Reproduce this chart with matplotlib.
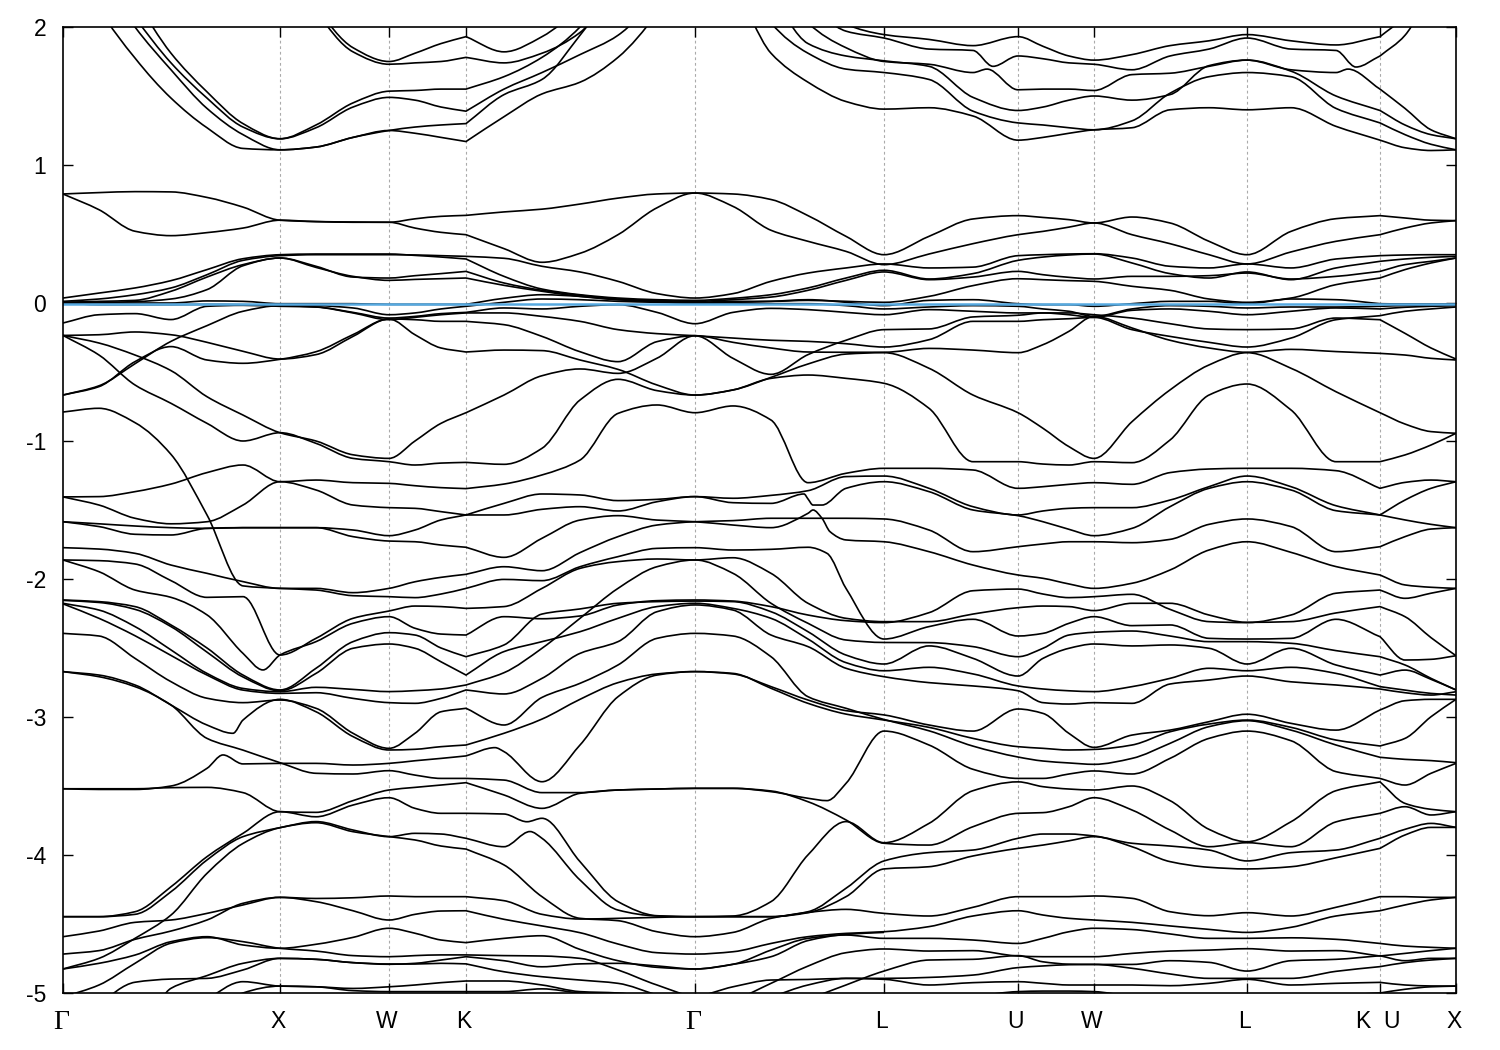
import numpy as np
import matplotlib
matplotlib.use('Agg')
import matplotlib.pyplot as plt
from matplotlib.path import Path
from matplotlib.patches import PathPatch
from matplotlib.transforms import ScaledTranslation

plt.rcParams['font.family'] = ['Liberation Sans', 'DejaVu Sans']

# path coordinate along the zone path, high symmetry points
nodes = [0, 217, 326, 403, 632, 821, 955, 1031, 1184, 1317, 1393]
node_labels = ['Γ', 'X', 'W', 'K', 'Γ', 'L', 'U', 'W', 'L', 'K  U', 'X']
energy_ticks = [2, 1, 0, -1, -2, -3, -4, -5]
fermi = -0.005
kink_nodes = [403, 1317]

k = [0, 36, 72, 108, 144, 180, 217, 253, 290, 326, 352, 378, 403,
     441, 479, 517, 555, 594, 632,
     670, 708, 745, 783, 821,
     866, 910, 955, 980, 1006, 1031, 1069, 1107, 1146, 1184, 1228, 1273, 1317, 1342, 1368, 1393]

# conduction bands
b01 = [3.4, 3.3, 3.2, 3.1, 3.0, 2.9, 2.6, 2.15, 1.85, 1.75, 1.81, 1.88, 1.93, 1.82, 1.93, 2.15, 2.5, 2.9, 3.2, 3.1, 2.8, 2.3, 2.02, 1.945, 1.91, 1.865, 1.93, 1.86, 1.79, 1.76, 1.80, 1.865, 1.90, 1.945, 1.90, 1.87, 1.93, 2.08, 2.4, 2.9]
b02 = [3.3, 3.2, 3.1, 3.0, 2.9, 2.8, 2.6, 2.12, 1.82, 1.73, 1.74, 1.75, 1.78, 1.74, 1.81, 1.96, 2.3, 2.7, 3.1, 3.0, 2.7, 2.2, 1.97, 1.92, 1.84, 1.83, 1.79, 1.77, 1.74, 1.73, 1.69, 1.79, 1.84, 1.92, 1.84, 1.83, 1.79, 1.94, 2.3, 2.9]
b03 = [2.9, 2.45, 2.07, 1.74, 1.485, 1.275, 1.19, 1.29, 1.45, 1.535, 1.54, 1.55, 1.55, 1.64, 1.78, 2.0, 2.4, 2.7, 3.0, 2.9, 2.5, 2.03, 1.85, 1.75, 1.73, 1.67, 1.545, 1.55, 1.55, 1.54, 1.655, 1.665, 1.715, 1.76, 1.69, 1.67, 1.55, 1.41, 1.255, 1.19]
b04 = [2.8, 2.6, 2.2, 1.81, 1.53, 1.30, 1.19, 1.27, 1.42, 1.49, 1.47, 1.42, 1.39, 1.55, 1.67, 1.80, 1.94, 2.25, 2.9, 2.7, 2.25, 1.88, 1.79, 1.755, 1.715, 1.49, 1.395, 1.42, 1.47, 1.50, 1.47, 1.51, 1.72, 1.76, 1.68, 1.50, 1.395, 1.29, 1.22, 1.19]
b05 = [2.7, 2.4, 2.0, 1.69, 1.41, 1.22, 1.11, 1.13, 1.20, 1.25, 1.275, 1.29, 1.30, 1.51, 1.62, 1.94, 2.3, 2.6, 2.7, 2.6, 2.03, 1.81, 1.695, 1.67, 1.62, 1.39, 1.305, 1.29, 1.27, 1.255, 1.32, 1.52, 1.64, 1.67, 1.64, 1.41, 1.305, 1.22, 1.15, 1.11]
b06 = [2.9, 2.15, 1.775, 1.485, 1.27, 1.12, 1.11, 1.13, 1.20, 1.25, 1.23, 1.20, 1.17, 1.35, 1.515, 1.60, 1.78, 2.1, 2.55, 2.3, 1.81, 1.60, 1.46, 1.405, 1.415, 1.355, 1.18, 1.20, 1.23, 1.255, 1.27, 1.40, 1.415, 1.40, 1.415, 1.28, 1.18, 1.125, 1.105, 1.11]

# flat bands around the Fermi level
b07 = [.79, .80, .807, .805, .765, .695, .60, .59, .587, .585, .61, .628, .635, .66, .68, .717, .76, .79, .797, .79, .75, .633, .483, .35, .483, .609, .633, .62, .604, .58, .623, .58, .447, .35, .519, .611, .633, .616, .60, .597]
b08 = [.79, .676, .52, .488, .51, .543, .60, .59, .585, .585, .543, .512, .495, .394, .295, .36, .495, .69, .797, .70, .527, .447, .374, .278, .355, .43, .495, .519, .55, .58, .495, .43, .35, .283, .37, .447, .495, .543, .58, .597]
b09 = [.012, .029, .06, .109, .205, .309, .343, .35, .35, .35, .348, .343, .338, .324, .266, .225, .157, .068, .036, .068, .157, .217, .254, .283, .254, .26, .343, .35, .355, .357, .326, .266, .254, .283, .254, .319, .343, .348, .35, .35]
b10 = [.036, .072, .109, .162, .242, .321, .35, .355, .355, .355, .345, .333, .319, .193, .101, .06, .036, .024, .019, .034, .06, .109, .181, .237, .174, .213, .309, .333, .348, .355, .29, .213, .181, .225, .169, .254, .302, .319, .331, .338]
b11 = [.005, .005, .01, .029, .097, .27, .326, .266, .188, .181, .198, .213, .229, .145, .092, .056, .029, .019, .012, .024, .043, .092, .164, .225, .169, .188, .229, .205, .186, .174, .193, .193, .198, .217, .174, .193, .229, .278, .302, .326]
b12 = [.005, .012, .019, .085, .188, .278, .326, .258, .193, .164, .171, .176, .181, .128, .085, .048, .024, .012, .005, .012, .012, .019, .012, .005, .048, .126, .176, .169, .162, .157, .121, .092, .029, .005, .036, .133, .181, .242, .29, .326]
b13 = [0, -.012, -.012, -.012, -.01, -.012, -.017, -.019, -.036, -.085, -.072, -.043, -.024, .005, .029, .024, .012, .005, 0, .005, .012, .024, .005, -.019, .019, .024, -.005, -.012, -.012, -.024, -.005, .012, .012, -.005, .029, .024, -.005, -.007, -.007, -.007]
b14 = [0, 0, 0, 0, .015, .012, -.005, -.005, -.005, -.01, -.01, -.01, -.01, .034, .06, .048, .024, .01, 0, 0, -.005, -.005, -.019, -.043, -.029, -.019, -.024, -.043, -.06, -.097, -.043, -.019, -.024, -.036, -.029, -.029, -.024, -.019, -.019, -.017]
b15 = [-.145, -.085, -.077, -.12, -.024, -.017, -.024, -.029, -.068, -.109, -.097, -.077, -.068, -.036, -.043, -.024, -.012, -.068, -.15, -.068, -.039, -.048, -.068, -.085, -.048, -.06, -.072, -.072, -.085, -.104, -.053, -.043, -.06, -.085, -.06, -.036, -.043, -.031, -.024, -.019]
b16 = [-.667, -.6, -.44, -.278, -.164, -.06, -.019, -.029, -.072, -.121, -.104, -.085, -.072, -.072, -.097, -.133, -.193, -.222, -.237, -.254, -.27, -.278, -.295, -.319, -.266, -.133, -.133, -.121, -.114, -.104, -.193, -.242, -.285, -.319, -.254, -.121, -.092, -.06, -.043, -.029]
b17 = [-.667, -.606, -.425, -.316, -.413, -.437, -.408, -.353, -.229, -.116, -.121, -.133, -.133, -.157, -.242, -.353, -.425, -.28, -.237, -.401, -.517, -.374, -.27, -.193, -.188, -.101, -.089, -.072, -.072, -.085, -.109, -.15, -.188, -.193, -.188, -.109, -.121, -.22, -.326, -.406]
b18 = [-.235, -.23, -.21, -.23, -.285, -.35, -.406, -.374, -.242, -.116, -.23, -.326, -.355, -.341, -.345, -.413, -.481, -.594, -.667, -.63, -.539, -.442, -.37, -.36, -.473, -.667, -.795, -.908, -1.041, -1.126, -.86, -.63, -.449, -.36, -.473, -.643, -.795, -.877, -.932, -.944]
b19 = [-.235, -.29, -.377, -.49, -.679, -.812, -.94, -1.0, -1.10, -1.126, -1.0, -.872, -.795, -.667, -.527, -.478, -.51, -.4, -.237, -.285, -.326, -.355, -.357, -.357, -.329, -.341, -.36, -.302, -.205, -.097, -.181, -.27, -.326, -.357, -.336, -.352, -.365, -.377, -.401, -.413]
b20 = [-.235, -.377, -.594, -.727, -.872, -1.0, -.94, -1.017, -1.126, -1.15, -1.174, -1.16, -1.155, -1.169, -1.053, -.703, -.553, -.635, -.667, -.63, -.546, -.522, -.546, -.582, -.763, -1.15, -1.15, -1.167, -1.174, -1.15, -1.157, -.993, -.667, -.587, -.775, -1.15, -1.15, -1.101, -1.029, -.944]

# middle valence bands
b21 = [-.79, -.763, -.867, -1.097, -1.536, -2.05, -2.068, -2.08, -2.121, -2.128, -2.135, -2.109, -2.068, -2.003, -2.012, -1.911, -1.838, -1.778, -1.773, -1.79, -1.785, -1.77, -2.068, -2.435, -2.345, -2.292, -2.413, -2.394, -2.321, -2.273, -2.338, -2.333, -2.43, -2.435, -2.43, -2.292, -2.418, -2.587, -2.582, -2.556]
b22 = [-1.405, -1.403, -1.367, -1.312, -1.229, -1.174, -1.295, -1.283, -1.302, -1.307, -1.324, -1.338, -1.345, -1.312, -1.246, -1.138, -.8, -.739, -.795, -.746, -.848, -1.302, -1.234, -1.198, -1.198, -1.21, -1.343, -1.331, -1.314, -1.302, -1.314, -1.229, -1.203, -1.198, -1.198, -1.215, -1.343, -1.3, -1.283, -1.295]
b23 = [-1.405, -1.464, -1.56, -1.60, -1.585, -1.464, -1.295, -1.355, -1.464, -1.483, -1.488, -1.512, -1.536, -1.452, -1.384, -1.391, -1.432, -1.423, -1.403, -1.415, -1.394, -1.36, -1.258, -1.254, -1.343, -1.476, -1.536, -1.507, -1.488, -1.483, -1.483, -1.428, -1.331, -1.254, -1.331, -1.469, -1.536, -1.572, -1.604, -1.628]
b24 = [-1.585, -1.60, -1.616, -1.628, -1.633, -1.628, -1.628, -1.628, -1.645, -1.686, -1.645, -1.572, -1.536, -1.536, -1.495, -1.476, -1.507, -1.44, -1.403, -1.447, -1.452, -1.42, -1.343, -1.295, -1.367, -1.5, -1.541, -1.585, -1.64, -1.686, -1.633, -1.476, -1.343, -1.295, -1.355, -1.505, -1.536, -1.428, -1.343, -1.295]
b25 = [-1.585, -1.62, -1.676, -1.681, -1.633, -1.628, -1.628, -1.628, -1.693, -1.725, -1.73, -1.754, -1.77, -1.843, -1.705, -1.573, -1.541, -1.573, -1.585, -1.609, -1.628, -1.524, -1.717, -1.73, -1.802, -1.899, -1.971, -1.995, -2.036, -2.068, -2.031, -1.935, -1.79, -1.73, -1.807, -1.91, -1.971, -2.043, -2.06, -2.068]
b26 = [-1.773, -1.783, -1.814, -1.899, -1.959, -2.019, -2.068, -2.068, -2.099, -2.068, -2.02, -1.988, -1.966, -1.911, -1.94, -1.809, -1.693, -1.609, -1.585, -1.577, -1.56, -1.56, -1.56, -1.565, -1.645, -1.802, -1.766, -1.746, -1.73, -1.73, -1.737, -1.713, -1.604, -1.565, -1.62, -1.802, -1.766, -1.693, -1.638, -1.628]
b27 = [-1.862, -1.867, -1.891, -2.012, -2.133, -2.128, -2.551, -2.43, -2.285, -2.232, -2.196, -2.2, -2.213, -2.2, -2.068, -1.923, -1.874, -1.855, -1.862, -1.846, -1.959, -2.176, -2.285, -2.309, -2.309, -2.254, -2.208, -2.196, -2.2, -2.229, -2.176, -2.176, -2.261, -2.314, -2.309, -2.246, -2.2, -2.273, -2.425, -2.556]
b28 = [-1.862, -1.947, -2.08, -2.133, -2.26, -2.539, -2.551, -2.454, -2.321, -2.273, -2.357, -2.399, -2.406, -2.273, -2.288, -2.268, -2.188, -2.157, -2.152, -2.16, -2.2, -2.261, -2.302, -2.316, -2.244, -2.085, -2.073, -2.109, -2.135, -2.128, -2.111, -2.22, -2.309, -2.316, -2.261, -2.103, -2.08, -2.14, -2.103, -2.068]
b29 = [-2.152, -2.164, -2.2, -2.333, -2.5, -2.696, -2.804, -2.647, -2.454, -2.389, -2.406, -2.5, -2.563, -2.478, -2.254, -2.217, -2.176, -2.164, -2.16, -2.164, -2.237, -2.382, -2.551, -2.616, -2.485, -2.575, -2.703, -2.575, -2.502, -2.471, -2.485, -2.478, -2.502, -2.616, -2.502, -2.623, -2.696, -2.66, -2.727, -2.804]
b30 = [-2.155, -2.17, -2.22, -2.345, -2.53, -2.71, -2.81, -2.684, -2.502, -2.471, -2.502, -2.6, -2.696, -2.526, -2.454, -2.382, -2.285, -2.2, -2.176, -2.213, -2.285, -2.435, -2.606, -2.665, -2.64, -2.688, -2.775, -2.797, -2.81, -2.816, -2.78, -2.72, -2.647, -2.665, -2.64, -2.684, -2.78, -2.805, -2.829, -2.841]
b31 = [-2.176, -2.225, -2.345, -2.514, -2.684, -2.793, -2.817, -2.785, -2.8, -2.816, -2.809, -2.797, -2.768, -2.679, -2.502, -2.285, -2.068, -1.911, -1.862, -1.959, -2.176, -2.321, -2.442, -2.46, -2.461, -2.49, -2.563, -2.502, -2.406, -2.386, -2.377, -2.413, -2.454, -2.454, -2.466, -2.519, -2.563, -2.623, -2.72, -2.804]
b32 = [-2.18, -2.285, -2.411, -2.554, -2.696, -2.805, -2.829, -2.824, -2.865, -2.896, -2.901, -2.865, -2.804, -2.833, -2.72, -2.539, -2.454, -2.237, -2.188, -2.225, -2.406, -2.49, -2.647, -2.708, -2.751, -2.775, -2.81, -2.896, -2.906, -2.896, -2.901, -2.761, -2.732, -2.703, -2.745, -2.768, -2.797, -2.824, -2.841, -2.817]
b33 = [-2.394, -2.413, -2.575, -2.744, -2.864, -2.896, -2.877, -2.937, -3.118, -3.227, -3.118, -2.962, -2.937, -3.058, -2.858, -2.756, -2.623, -2.43, -2.394, -2.413, -2.563, -2.853, -2.937, -3.018, -3.1, -3.211, -3.29, -3.319, -3.333, -3.343, -3.3, -3.191, -3.07, -3.027, -3.095, -3.203, -3.292, -3.307, -3.316, -3.331]
b34 = [-2.671, -2.696, -2.768, -2.913, -3.058, -3.022, -2.872, -2.962, -3.142, -3.239, -3.234, -3.215, -3.203, -3.118, -3.015, -2.872, -2.751, -2.688, -2.671, -2.684, -2.792, -2.901, -2.979, -3.022, -3.075, -3.155, -3.215, -3.227, -3.239, -3.235, -3.203, -3.107, -3.051, -3.022, -3.075, -3.167, -3.21, -3.155, -2.998, -2.872]
b35 = [-2.671, -2.708, -2.78, -2.913, -3.155, -3.24, -3.331, -3.408, -3.413, -3.389, -3.421, -3.445, -3.445, -3.457, -3.548, -3.548, -3.529, -3.522, -3.517, -3.517, -3.536, -3.614, -3.746, -3.915, -3.928, -3.795, -3.698, -3.693, -3.65, -3.585, -3.674, -3.819, -3.94, -3.911, -3.94, -3.76, -3.698, -3.65, -3.71, -3.686]
b36 = [-3.52, -3.525, -3.525, -3.5, -3.372, -3.34, -3.336, -3.336, -3.348, -3.336, -3.317, -3.3, -3.282, -3.251, -3.469, -3.203, -2.853, -2.696, -2.671, -2.688, -2.78, -2.877, -2.954, -2.985, -3.058, -3.102, -2.942, -2.974, -3.119, -3.22, -3.131, -3.095, -3.034, -2.98, -3.046, -3.095, -2.949, -2.882, -2.872, -2.872]
b37 = [-3.52, -3.52, -3.52, -3.512, -3.51, -3.548, -3.686, -3.691, -3.606, -3.529, -3.51, -3.493, -3.476, -3.565, -3.662, -3.553, -3.529, -3.522, -3.517, -3.517, -3.541, -3.589, -3.481, -3.102, -3.203, -3.379, -3.445, -3.445, -3.413, -3.391, -3.413, -3.3, -3.155, -3.102, -3.172, -3.396, -3.445, -3.493, -3.408, -3.336]

# lower valence bands
b38 = [-4.447, -4.447, -4.411, -4.23, -4.012, -3.843, -3.686, -3.723, -3.638, -3.585, -3.662, -3.698, -3.698, -3.703, -3.734, -4.048, -4.338, -4.44, -4.447, -4.442, -4.338, -3.999, -3.758, -3.911, -3.771, -3.534, -3.47, -3.505, -3.522, -3.529, -3.5, -3.606, -3.814, -3.904, -3.759, -3.534, -3.47, -3.626, -3.669, -3.686]
b39 = [-4.447, -4.447, -4.43, -4.266, -4.036, -3.867, -3.802, -3.758, -3.819, -3.867, -3.843, -3.848, -3.879, -3.94, -3.879, -4.181, -4.399, -4.442, -4.447, -4.447, -4.447, -4.411, -4.241, -4.043, -3.983, -3.964, -3.879, -3.848, -3.848, -3.862, -3.915, -3.935, -3.964, -4.043, -3.983, -3.964, -3.879, -3.814, -3.771, -3.8]
b40 = [-4.826, -4.749, -4.604, -4.435, -4.133, -3.916, -3.802, -3.766, -3.831, -3.867, -3.891, -3.935, -3.957, -4.072, -4.302, -4.459, -4.476, -4.556, -4.592, -4.561, -4.459, -4.416, -4.394, -4.423, -4.442, -4.379, -4.302, -4.302, -4.302, -4.297, -4.314, -4.411, -4.44, -4.418, -4.442, -4.379, -4.302, -4.302, -4.307, -4.307]
b41 = [-4.592, -4.551, -4.488, -4.471, -4.423, -4.362, -4.307, -4.315, -4.31, -4.297, -4.302, -4.302, -4.302, -4.331, -4.43, -4.464, -4.459, -4.452, -4.447, -4.447, -4.447, -4.418, -4.302, -4.101, -4.085, -4.007, -3.952, -3.928, -3.897, -3.867, -3.94, -4.048, -4.089, -4.101, -4.085, -4.02, -3.952, -3.855, -3.8, -3.8]
b42 = [-4.718, -4.693, -4.611, -4.551, -4.471, -4.35, -4.307, -4.338, -4.404, -4.471, -4.43, -4.406, -4.404, -4.466, -4.514, -4.563, -4.645, -4.708, -4.718, -4.701, -4.641, -4.592, -4.568, -4.556, -4.519, -4.442, -4.404, -4.435, -4.459, -4.471, -4.488, -4.514, -4.539, -4.561, -4.524, -4.442, -4.404, -4.362, -4.326, -4.307]
b43 = [-4.826, -4.785, -4.725, -4.628, -4.592, -4.652, -4.676, -4.647, -4.597, -4.531, -4.567, -4.616, -4.635, -4.604, -4.585, -4.684, -4.766, -4.814, -4.826, -4.792, -4.689, -4.604, -4.58, -4.604, -4.604, -4.616, -4.641, -4.604, -4.556, -4.531, -4.54, -4.572, -4.604, -4.604, -4.6, -4.611, -4.641, -4.66, -4.669, -4.676]
b44 = [-5.03, -4.942, -4.785, -4.639, -4.599, -4.628, -4.676, -4.696, -4.729, -4.737, -4.729, -4.724, -4.724, -4.729, -4.732, -4.749, -4.833, -4.942, -5.02, -4.955, -4.906, -4.902, -4.894, -4.894, -4.887, -4.87, -4.816, -4.804, -4.795, -4.793, -4.821, -4.862, -4.894, -4.894, -4.894, -4.843, -4.809, -4.78, -4.761, -4.749]
b45 = [-5.3, -5.08, -4.922, -4.899, -4.894, -4.833, -4.749, -4.756, -4.78, -4.792, -4.785, -4.761, -4.737, -4.766, -4.81, -4.789, -4.785, -4.804, -4.826, -4.792, -4.737, -4.62, -4.575, -4.561]
b46 = [-5.3, -5.3, -5.3, -4.966, -4.874, -4.785, -4.749, -4.756, -4.78, -4.79, -4.79, -4.785, -4.789, -4.846, -4.882, -4.906, -4.93, -5.015, -5.1, -5.05, -4.93, -4.805, -4.708, -4.681, -4.696, -4.693, -4.732, -4.737, -4.737, -4.737, -4.713, -4.696, -4.689, -4.679, -4.696, -4.693, -4.732, -4.713, -4.693, -4.676]
b47 = [-5.3, -5.3, -5.3, -5.3, -5.05, -4.918, -4.95, -4.955, -4.967, -4.955, -4.942, -4.925, -4.913, -4.913, -4.942, -4.99, -5.0, -5.05, -5.2, -5.12, -5.03, -4.942, -4.894, -4.901, -4.942, -4.925, -4.918, -4.93, -4.942, -4.942, -4.942, -4.947, -4.93, -4.901, -4.942, -4.93, -4.923, -4.942, -4.949, -4.95]
b48 = [-5.3, -5.3, -5.3, -5.3, -5.3, -5.0, -4.95, -4.955, -4.983, -4.99, -4.99, -4.99, -4.99, -4.99, -4.97, -5.0, -5.02, -5.1, -5.2, -5.25, -5.2, -5.05, -4.942, -4.841, -4.761, -4.756, -4.729, -4.774, -4.791, -4.793, -4.793, -4.766, -4.778, -4.841, -4.766, -4.756, -4.73, -4.766, -4.749, -4.749]

# this one only shows up in the last part of the path
k_tail = k[24:]
b49 = [-5.1, -5.03, -4.99, -4.986, -4.986, -4.99, -5.03, -5.08, -5.1, -5.15, -5.1, -5.02, -5.0, -4.973, -4.955, -4.95]

bands = [b01, b02, b03, b04, b05, b06, b07, b08, b09, b10, b11, b12, b13, b14, b15, b16,
         b17, b18, b19, b20, b21, b22, b23, b24, b25, b26, b27, b28, b29, b30, b31, b32,
         b33, b34, b35, b36, b37, b38, b39, b40, b41, b42, b43, b44, b45, b46, b47, b48]

# extra points for sharp kinks that fall between the k columns
kinks = {
    1: [(930, 1.715), (1293, 1.71)],
    2: [(924, 1.695), (1285, 1.695)],
    20: [(764, -1.814)],
    23: [(741, -1.384), (750, -1.464), (759, -1.464)],
    24: [(750, -1.5), (759, -1.56), (767, -1.657)],
    27: [(200, -2.659)],
    33: [(170, -3.118)],
    35: [(160, -3.275), (432, -3.222)],
    36: [(764, -3.606)],
    37: [(464, -3.759)],
    38: [(467, -3.83)],
}


def slopes(x, y):
    h = np.diff(x)
    d = np.diff(y) / h
    m = np.zeros(len(x))
    m[0] = d[0]
    m[-1] = d[-1]
    for j in range(1, len(x) - 1):
        if d[j - 1] * d[j] > 0:
            w1 = 2 * h[j] + h[j - 1]
            w2 = h[j] + 2 * h[j - 1]
            m[j] = (w1 + w2) / (w1 / d[j - 1] + w2 / d[j])
    return m


def band_path(x, y):
    # bezier through the read values, with a corner at the K points
    x = np.array(x, dtype=float)
    y = np.array(y, dtype=float)
    cuts = [0] + [int(np.where(x == n)[0][0]) for n in kink_nodes if n in x] + [len(x) - 1]
    verts = [(x[0], y[0])]
    codes = [Path.MOVETO]
    for a, b in zip(cuts[:-1], cuts[1:]):
        xs = x[a:b + 1]
        ys = y[a:b + 1]
        m = slopes(xs, ys)
        for j in range(len(xs) - 1):
            h = (xs[j + 1] - xs[j]) / 3
            verts += [(xs[j] + h, ys[j] + m[j] * h),
                      (xs[j + 1] - h, ys[j + 1] - m[j + 1] * h),
                      (xs[j + 1], ys[j + 1])]
            codes += [Path.CURVE4, Path.CURVE4, Path.CURVE4]
    return Path(verts, codes)


fig = plt.figure(figsize=(15, 10.5), dpi=100)
ax = fig.add_axes([63 / 1500, 57 / 1050, 1393 / 1500, 966 / 1050])

for x in nodes[1:-1]:
    ax.axvline(x, color='#aaaaaa', lw=0.8, ls=(0, (2.5, 2.5)), zorder=1)

for i, e in enumerate(bands):
    kk = k[:len(e)]
    ee = e
    if i in kinks:
        kk = kk + [p[0] for p in kinks[i]]
        ee = ee + [p[1] for p in kinks[i]]
        order = np.argsort(kk)
        kk = np.array(kk)[order]
        ee = np.array(ee)[order]
    ax.add_patch(PathPatch(band_path(kk, ee), fill=False, edgecolor='black', lw=1.2, zorder=2))
ax.add_patch(PathPatch(band_path(k_tail, b49), fill=False, edgecolor='black', lw=1.2, zorder=2))

ax.plot([nodes[0], nodes[-1]], [fermi, fermi], color='#56a9e0', lw=1.8, zorder=3)

ax.set_xlim(nodes[0], nodes[-1])
ax.set_ylim(-5, 2)
ax.set_xticks(nodes)
ax.set_xticklabels(node_labels)
ax.set_yticks(energy_ticks)
ax.set_yticklabels([str(v) for v in energy_ticks])
ax.tick_params(axis='both', direction='in', length=7.5, width=1.0, top=True, right=True, labelsize=16.5)
ax.tick_params(axis='x', pad=12)
ax.tick_params(axis='y', pad=12)
for s in ax.spines.values():
    s.set_linewidth(1.2)
    s.set_zorder(5)

# labels sit a little left of their ticks, the gamma is a larger serif glyph
shift = ScaledTranslation(-1.5 / 72, 0, fig.dpi_scale_trans)
for t in ax.get_xticklabels():
    t.set_transform(t.get_transform() + shift)
    if t.get_text() == 'Γ':
        t.set_fontfamily(['Liberation Serif', 'DejaVu Serif'])
        t.set_fontsize(20)

fig.savefig('out.png', dpi=100)
